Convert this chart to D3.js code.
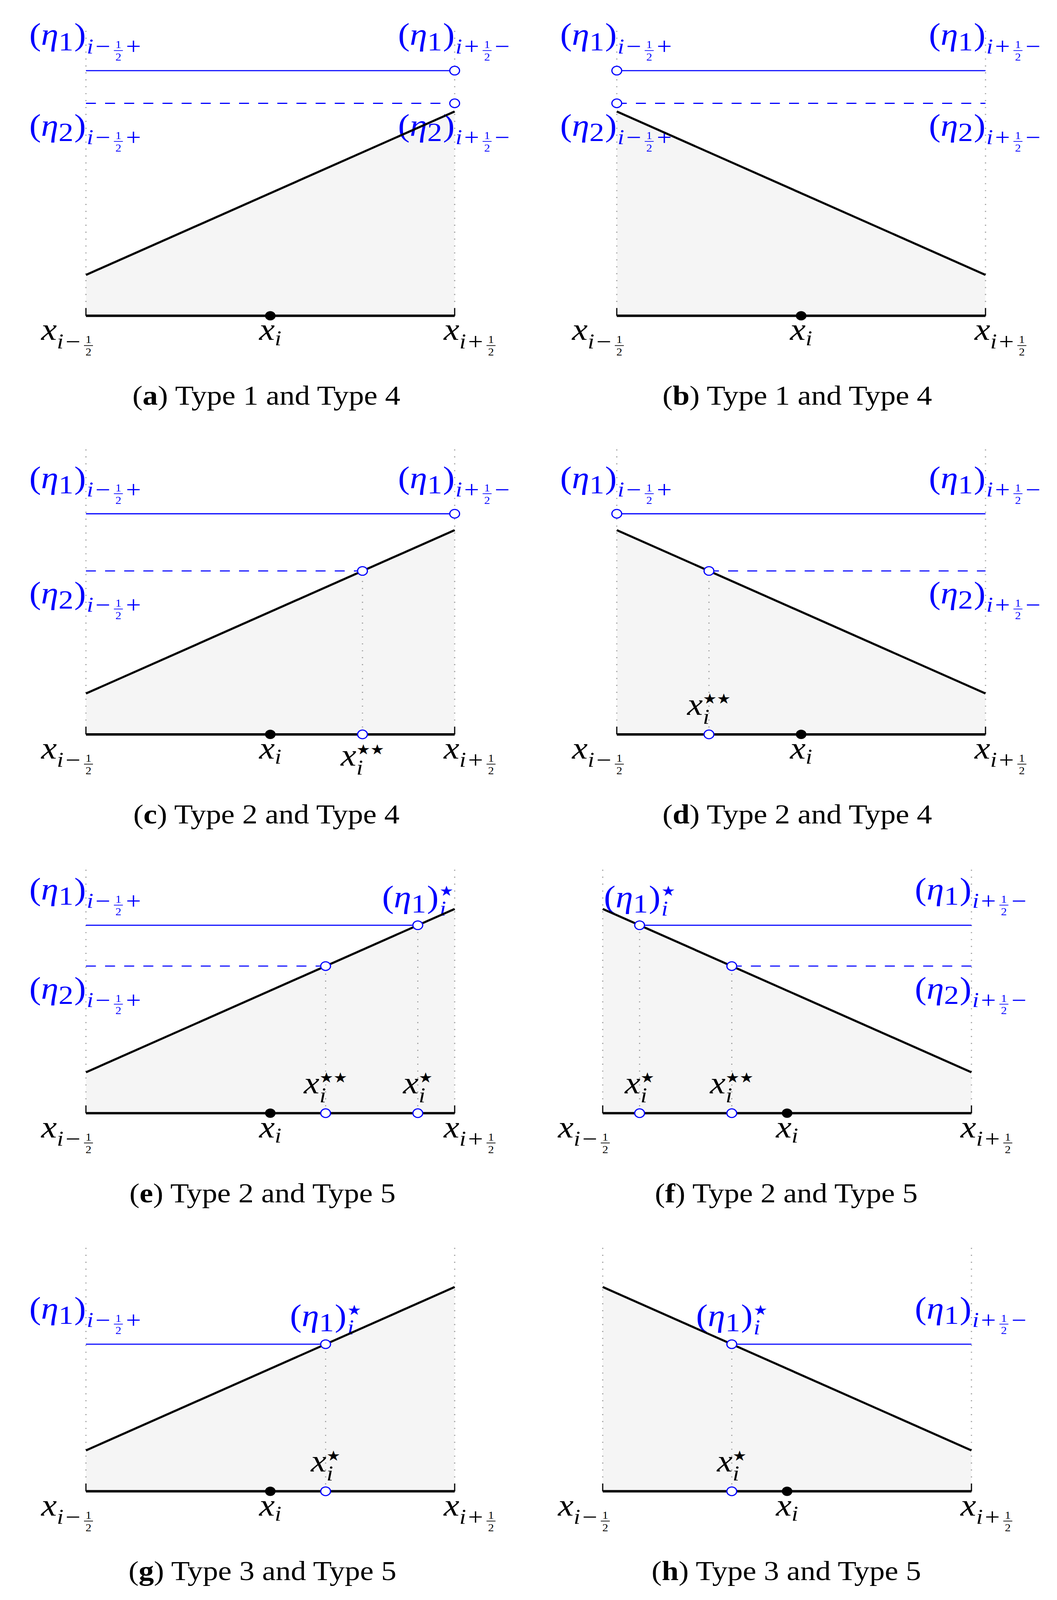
<!DOCTYPE html>
<html>
<head>
<meta charset="utf-8">
<script src="https://cdn.jsdelivr.net/npm/d3@7"></script>
<style>
  html, body { margin: 0; background: #fff; overflow: hidden; }
  svg { display: block; }
</style>
</head>
<body>
<div id="figure"></div>
<script>
// cell [x_{i-1/2}, x_{i+1/2}] is 0..4 with x_i = 2, heights in the same units
const panelTags = ["a", "b", "c", "d", "e", "f", "g", "h"];
const captionTexts = [
  "Type 1 and Type 4", "Type 1 and Type 4",
  "Type 2 and Type 4", "Type 2 and Type 4",
  "Type 2 and Type 5", "Type 2 and Type 5",
  "Type 3 and Type 5", "Type 3 and Type 5"
];
const cellEdges = [0, 4];
const cellCentre = 2;
const frameTop = [3.5, 3.5, 3.5, 3.5, 3, 3, 3, 3];
// linear reconstruction at the two cell faces
const faceLeft = [0.5, 2.5, 0.5, 2.5, 0.5, 2.5, 0.5, 2.5];
const faceRight = [2.5, 0.5, 2.5, 0.5, 2.5, 0.5, 2.5, 0.5];
// eta levels, extent of each level line, open-circle position
const eta1Level = [3.0, 3.0, 2.7, 2.7, 2.3, 2.3, 1.8, 1.8];
const eta2Level = [2.6, 2.6, 2.0, 2.0, 1.8, 1.8, null, null];
const eta1Span = [[0, 4], [0, 4], [0, 4], [0, 4], [0, 3.6], [0.4, 4], [0, 2.6], [1.4, 4]];
const eta2Span = [[0, 4], [0, 4], [0, 3], [1, 4], [0, 2.6], [1.4, 4], null, null];
const eta1Mark = [4, 0, 4, 0, 3.6, 0.4, 2.6, 1.4];
const eta2Mark = [4, 0, 3, 1, 2.6, 1.4, null, null];
// crossing points on the axis
const xStar = [null, null, null, null, 3.6, 0.4, 2.6, 1.4];
const xStarStar = [null, null, 3, 1, 2.6, 1.4, null, null];
const xStarStarSide = [null, null, "below", "above", "above", "above", null, null];
// labels at the ends of the level lines: "-" (.)_{i-1/2+}, "+" (.)_{i+1/2-}, "*" (.)_i^star
const eta1Tags = [["-", "+"], ["-", "+"], ["-", "+"], ["-", "+"], ["-", "*"], ["*", "+"], ["-", "*"], ["*", "+"]];
const eta2Tags = [["-", "+"], ["-", "+"], ["-", null], [null, "+"], ["-", null], [null, "+"], null, null];

// layout
const W = 2706, H = 4621;
const unit = 236, cellWidth = 4 * unit;
const rowAxis = [912, 2121, 3215, 4307];
const colLeft = [[220, 1579], [220, 1579], [220, 1543], [220, 1543]];
const captionX = [[682, 2041], [682, 2041], [672, 2013], [672, 2013]];
const blue = "#0000ff";
const serif = "'Liberation Serif', 'Times New Roman', serif";
const starFont = "'DejaVu Sans', sans-serif";
const F = 90, S = 62, OP = 68, SS = 30, STAR = 40;

// the page is stretched onto whatever viewport it gets
const vw = window.innerWidth || W, vh = window.innerHeight || H;
const svg = d3.select("#figure").append("svg")
  .attr("width", vw).attr("height", vh)
  .attr("viewBox", `0 0 ${W} ${H}`)
  .attr("preserveAspectRatio", "none")
  .style("font-family", serif);

// ---- tiny math typesetter: runs of text placed one after another
function putText(g, x, tk) {
  const pad = tk.pad || 0;
  const t = g.append("text")
    .attr("x", x + pad).attr("y", tk.dy || 0)
    .attr("font-size", tk.s)
    .attr("font-style", tk.it ? "italic" : "normal")
    .text(tk.t);
  if (tk.fam) t.style("font-family", tk.fam);
  return t.node().getComputedTextLength() + 2 * pad;
}

function putFrac(g, x, tk, color) {
  const bar = tk.dy - 8;
  const n = g.append("text").attr("font-size", SS).attr("text-anchor", "middle").text(tk.frac[0]);
  const d = g.append("text").attr("font-size", SS).attr("text-anchor", "middle").text(tk.frac[1]);
  const w = Math.max(n.node().getComputedTextLength(), d.node().getComputedTextLength()) + 16;
  n.attr("x", x + w / 2).attr("y", tk.dy - 15);
  d.attr("x", x + w / 2).attr("y", tk.dy + 21);
  g.append("line")
    .attr("x1", x + 4).attr("x2", x + w - 4)
    .attr("y1", bar).attr("y2", bar)
    .attr("stroke", color).attr("stroke-width", 2);
  return w;
}

function mathLabel(parent, tokens, color, ax, base, align) {
  const g = parent.append("g").attr("fill", color);
  let x = 0;
  tokens.forEach(tk => {
    if (tk.frac) x += putFrac(g, x, tk, color);
    else if (tk.stack) x += Math.max(...tk.stack.map(s => putText(g, x, s)));
    else x += putText(g, x, tk);
  });
  const shift = align === "end" ? -x : align === "start" ? 0 : -x / 2;
  g.attr("transform", `translate(${ax + shift},${base})`);
  return g;
}

// subscript i -/+ 1/2 (+/-), baseline dy below the main one
function halfSub(signs, dy) {
  const opDy = dy - 15 + 0.27 * OP;
  const toks = [
    {t: "i", s: S, it: true, dy: dy},
    {t: signs[0], s: OP, dy: opDy, pad: 5},
    {frac: ["1", "2"], dy: dy}
  ];
  if (signs[1]) toks.push({t: signs[1], s: OP, dy: opDy, pad: 4});
  return toks;
}

function etaTokens(k, tag) {
  const head = [
    {t: "(", s: F},
    {t: "η", s: F, it: true},
    {t: k, s: 0.85 * F, dy: 15},
    {t: ")", s: F, pad: 2}
  ];
  if (tag === "*") {
    return head.concat([{stack: [
      {t: "★", s: STAR, dy: -33, fam: starFont},
      {t: "i", s: S, it: true, dy: 24}
    ]}]);
  }
  return head.concat(halfSub(tag === "-" ? ["−", "+"] : ["+", "−"], 24));
}

function xStarTokens(stars) {
  return [
    {t: "x", s: F, it: true},
    {stack: [
      {t: stars, s: STAR, dy: -32, fam: starFont},
      {t: "i", s: S, it: true, dy: 26}
    ]}
  ];
}

panelTags.forEach((tag, p) => {
  const row = Math.floor(p / 2), col = p % 2;
  const axisY = rowAxis[row], left = colLeft[row][col];
  const x = d3.scaleLinear().domain(cellEdges).range([left, left + cellWidth]);
  const y = d3.scaleLinear().domain([0, 1]).range([axisY, axisY - unit]);
  const g = svg.append("g").attr("class", "panel-" + tag);
  const recon = [[cellEdges[0], faceLeft[p]], [cellEdges[1], faceRight[p]]];

  // shaded area under the reconstruction
  g.append("path").datum(recon)
    .attr("d", d3.area().x(d => x(d[0])).y0(y(0)).y1(d => y(d[1])))
    .attr("fill", "#f5f5f5");

  // dotted guides
  const guides = [[cellEdges[0], frameTop[p]], [cellEdges[1], frameTop[p]]];
  if (xStar[p] != null) guides.push([xStar[p], eta1Level[p]]);
  if (xStarStar[p] != null) guides.push([xStarStar[p], eta2Level[p]]);
  g.append("g").selectAll("line").data(guides).join("line")
    .attr("x1", d => x(d[0])).attr("x2", d => x(d[0]))
    .attr("y1", y(0)).attr("y2", d => y(d[1]))
    .attr("stroke", "#9a9a9a").attr("stroke-width", 3)
    .attr("stroke-dasharray", "3 17");

  // labels of the eta levels
  const labels = g.append("g");
  eta1Tags[p].forEach((t, s) => {
    if (!t) return;
    mathLabel(labels, etaTokens("1", t), blue, x(eta1Span[p][s]),
      y(eta1Level[p]) - (t === "*" ? 52 : 74), "middle");
  });
  if (eta2Tags[p]) eta2Tags[p].forEach((t, s) => {
    if (!t) return;
    mathLabel(labels, etaTokens("2", t), blue, x(eta2Span[p][s]),
      y(eta2Level[p]) + 94, "middle");
  });

  // axis labels
  mathLabel(labels, [{t: "x", s: F, it: true}].concat(halfSub(["−", null], 24)),
    "#000", x(cellEdges[0]) + 22, y(0) + 70, "end");
  mathLabel(labels, [{t: "x", s: F, it: true}, {t: "i", s: S, it: true, dy: 15}],
    "#000", x(cellCentre), y(0) + 70, "middle");
  mathLabel(labels, [{t: "x", s: F, it: true}].concat(halfSub(["+", null], 24)),
    "#000", x(cellEdges[1]) - 28, y(0) + 70, "start");
  if (xStar[p] != null) {
    mathLabel(labels, xStarTokens("★"), "#000", x(xStar[p]), y(0) - 57, "middle");
  }
  if (xStarStar[p] != null) {
    const below = xStarStarSide[p] === "below";
    mathLabel(labels, xStarTokens("★★"), "#000", x(xStarStar[p]),
      below ? y(0) + 90 : y(0) - 57, "middle");
  }

  // reconstruction
  g.append("path").datum(recon)
    .attr("d", d3.line().x(d => x(d[0])).y(d => y(d[1])))
    .attr("fill", "none").attr("stroke", "#000").attr("stroke-width", 6);

  // cell axis with end ticks
  g.append("line")
    .attr("x1", x(cellEdges[0])).attr("x2", x(cellEdges[1]))
    .attr("y1", y(0)).attr("y2", y(0))
    .attr("stroke", "#000").attr("stroke-width", 7);
  g.append("g").selectAll("line").data(cellEdges).join("line")
    .attr("x1", d => x(d)).attr("x2", d => x(d))
    .attr("y1", y(0)).attr("y2", y(0) - 22)
    .attr("stroke", "#000").attr("stroke-width", 3);

  // eta levels
  g.append("line")
    .attr("x1", x(eta1Span[p][0])).attr("x2", x(eta1Span[p][1]))
    .attr("y1", y(eta1Level[p])).attr("y2", y(eta1Level[p]))
    .attr("stroke", blue).attr("stroke-width", 3.2);
  if (eta2Span[p]) {
    g.append("line")
      .attr("x1", x(eta2Span[p][0])).attr("x2", x(eta2Span[p][1]))
      .attr("y1", y(eta2Level[p])).attr("y2", y(eta2Level[p]))
      .attr("stroke", blue).attr("stroke-width", 3.2)
      .attr("stroke-dasharray", "25.5 23.5");
  }

  // open circles
  const marks = [[eta1Mark[p], eta1Level[p]]];
  if (eta2Mark[p] != null) marks.push([eta2Mark[p], eta2Level[p]]);
  if (xStar[p] != null) marks.push([xStar[p], 0]);
  if (xStarStar[p] != null) marks.push([xStarStar[p], 0]);
  g.append("g").selectAll("circle").data(marks).join("circle")
    .attr("cx", d => x(d[0])).attr("cy", d => y(d[1]))
    .attr("r", 12.5)
    .attr("fill", "#fff").attr("stroke", blue).attr("stroke-width", 3.1);

  // cell centre
  g.append("circle")
    .attr("cx", x(cellCentre)).attr("cy", y(0)).attr("r", 13.5)
    .attr("fill", "#000");

  // caption
  const cap = svg.append("text")
    .attr("x", captionX[row][col]).attr("y", axisY + 257)
    .attr("text-anchor", "middle").attr("font-size", 78);
  cap.append("tspan").text("(");
  cap.append("tspan").attr("font-weight", "bold").text(tag);
  cap.append("tspan").text(") " + captionTexts[p]);
});
</script>
</body>
</html>
